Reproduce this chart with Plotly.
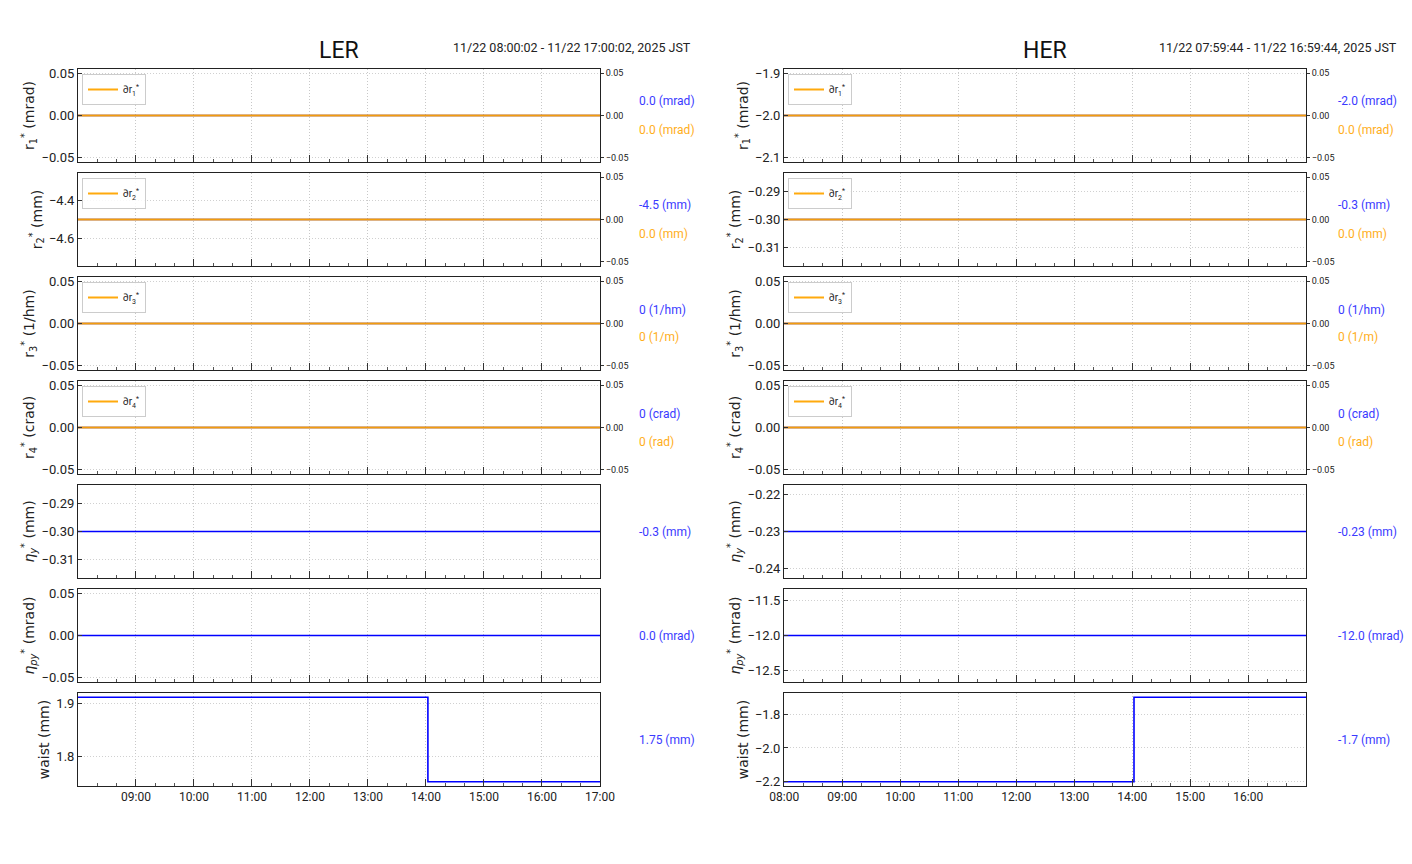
import plotly.graph_objects as go

# ---------------- data ----------------
LER_TIMES = ["2025-11-22 08:00:02", "2025-11-22 14:02:00", "2025-11-22 17:00:02"]
HER_TIMES = ["2025-11-22 07:59:44", "2025-11-22 14:01:48", "2025-11-22 16:59:44"]

LER_XTICK_LABELS = ["09:00", "10:00", "11:00", "12:00", "13:00", "14:00", "15:00", "16:00", "17:00"]
HER_XTICK_LABELS = ["08:00", "09:00", "10:00", "11:00", "12:00", "13:00", "14:00", "15:00", "16:00"]

LER_R1 = [0.0, 0.0, 0.0]
LER_R2 = [-4.5, -4.5, -4.5]
LER_R3 = [0.0, 0.0, 0.0]
LER_R4 = [0.0, 0.0, 0.0]
LER_ETAY = [-0.3, -0.3, -0.3]
LER_ETAPY = [0.0, 0.0, 0.0]
LER_WAIST = [1.911, 1.753, 1.753]
LER_DR = [[0.0, 0.0, 0.0]] * 4

HER_R1 = [-2.0, -2.0, -2.0]
HER_R2 = [-0.3, -0.3, -0.3]
HER_R3 = [0.0, 0.0, 0.0]
HER_R4 = [0.0, 0.0, 0.0]
HER_ETAY = [-0.23, -0.23, -0.23]
HER_ETAPY = [-12.0, -12.0, -12.0]
HER_WAIST = [-2.2, -1.7, -1.7]
HER_DR = [[0.0, 0.0, 0.0]] * 4

Y_LABELS = ["r<sub>1</sub><sup>*</sup> (mrad)", "r<sub>2</sub><sup>*</sup> (mm)",
            "r<sub>3</sub><sup>*</sup> (1/hm)", "r<sub>4</sub><sup>*</sup> (crad)",
            "<i>η</i><sub><i>y</i></sub><sup>*</sup> (mm)", "<i>η</i><sub><i>py</i></sub><sup>*</sup> (mrad)",
            "waist (mm)"]
LEG_NAMES = ["∂r<sub>1</sub><sup>*</sup>", "∂r<sub>2</sub><sup>*</sup>",
             "∂r<sub>3</sub><sup>*</sup>", "∂r<sub>4</sub><sup>*</sup>"]

LER_VAL_TEXT = ["0.0 (mrad)", "-4.5 (mm)", "0 (1/hm)", "0 (crad)", "-0.3 (mm)", "0.0 (mrad)", "1.75 (mm)"]
LER_DR_TEXT = ["0.0 (mrad)", "0.0 (mm)", "0 (1/m)", "0 (rad)"]
HER_VAL_TEXT = ["-2.0 (mrad)", "-0.3 (mm)", "0 (1/hm)", "0 (crad)", "-0.23 (mm)", "-12.0 (mrad)", "-1.7 (mm)"]
HER_DR_TEXT = ["0.0 (mrad)", "0.0 (mm)", "0 (1/m)", "0 (rad)"]

LER_TITLE = "11/22 08:00:02 - 11/22 17:00:02, 2025 JST"
HER_TITLE = "11/22 07:59:44 - 11/22 16:59:44, 2025 JST"

LER_YTICKS = [[-0.05, 0.0, 0.05], [-4.6, -4.4], [-0.05, 0.0, 0.05], [-0.05, 0.0, 0.05],
              [-0.31, -0.30, -0.29], [-0.05, 0.0, 0.05], [1.8, 1.9]]
LER_YTEXT = [["−0.05", "0.00", "0.05"], ["−4.6", "−4.4"], ["−0.05", "0.00", "0.05"],
             ["−0.05", "0.00", "0.05"], ["−0.31", "−0.30", "−0.29"],
             ["−0.05", "0.00", "0.05"], ["1.8", "1.9"]]
HER_YTICKS = [[-2.1, -2.0, -1.9], [-0.31, -0.30, -0.29], [-0.05, 0.0, 0.05], [-0.05, 0.0, 0.05],
              [-0.24, -0.23, -0.22], [-12.5, -12.0, -11.5], [-2.2, -2.0, -1.8]]
HER_YTEXT = [["−2.1", "−2.0", "−1.9"], ["−0.31", "−0.30", "−0.29"], ["−0.05", "0.00", "0.05"],
             ["−0.05", "0.00", "0.05"], ["−0.24", "−0.23", "−0.22"],
             ["−12.5", "−12.0", "−11.5"], ["−2.2", "−2.0", "−1.8"]]
SEC_TICKS = [-0.05, 0.0, 0.05]
SEC_TEXT = ["−0.05", "0.00", "0.05"]

# ---------------- layout geometry ----------------
OFF = 8  # page body margin
W, H = 1412 - 2 * OFF, 864 - 2 * OFF
COL_X = [(78, 600), (784, 1306)]
ROW_Y = [(69, 162), (173, 266), (277, 370), (381, 474), (485, 578), (589, 682), (693, 786)]
ANN_X = [637, 1336]

NARROW = "Roboto, sans-serif"
REG = "DejaVu Sans, sans-serif"
BLUE = "#0000ff"
ORANGE = "#ffa500"


def px(x):
    return (x - OFF) / W


def py(y):
    return 1 - (y - OFF) / H


def yrange(vals):
    lo, hi = min(vals), max(vals)
    if hi == lo:
        d = abs(lo) * 0.05 if lo != 0 else 0.05
        lo, hi = lo - d, hi + d
    m = (hi - lo) * 0.05
    return [lo - m, hi + m]


fig = go.Figure()
layout = {}

columns = [
    dict(times=LER_TIMES, vals=[LER_R1, LER_R2, LER_R3, LER_R4, LER_ETAY, LER_ETAPY, LER_WAIST],
         dr=LER_DR, vtext=LER_VAL_TEXT, drtext=LER_DR_TEXT, yt=LER_YTICKS, ytt=LER_YTEXT,
         xt=LER_XTICK_LABELS, name="LER", sub=LER_TITLE),
    dict(times=HER_TIMES, vals=[HER_R1, HER_R2, HER_R3, HER_R4, HER_ETAY, HER_ETAPY, HER_WAIST],
         dr=HER_DR, vtext=HER_VAL_TEXT, drtext=HER_DR_TEXT, yt=HER_YTICKS, ytt=HER_YTEXT,
         xt=HER_XTICK_LABELS, name="HER", sub=HER_TITLE),
]

annotations = []
legend_n = 0
for c, col in enumerate(columns):
    x0, x1 = COL_X[c]
    xdom = [px(x0), px(x1)]
    xtickvals = ["2025-11-22 " + t + ":00" for t in col["xt"]]
    for r in range(7):
        idx = c * 7 + r + 1
        y0p, y1p = ROW_Y[r]
        ydom = [py(y1p), py(y0p)]
        xa = f"x{idx}"
        ya = f"y{idx}"
        fig.add_trace(go.Scatter(
            x=col["times"], y=col["vals"][r], xaxis=xa, yaxis=ya, mode="lines",
            line=dict(color=BLUE, width=1.6, shape="hv"), showlegend=False, hoverinfo="skip"))
        layout[f"xaxis{idx}"] = dict(
            domain=xdom, anchor=ya, type="date",
            range=[col["times"][0], col["times"][-1]],
            tickmode="array", tickvals=xtickvals, ticktext=col["xt"],
            ticks="inside", ticklen=7, tickcolor="#333", tickwidth=1,
            minor=dict(tickmode="linear", tick0="2025-11-22 00:00:00", dtick=1200000,
                       ticks="inside", ticklen=3, tickcolor="#555", showgrid=False),
            showticklabels=(r == 6),
            tickfont=dict(family=NARROW, size=12, color="#222"),
            showline=True, linecolor="#222", linewidth=1, mirror=True,
            showgrid=True, gridcolor="#c8c8c8", griddash="1px,2px", gridwidth=1,
            zeroline=False, automargin=False, fixedrange=True)
        layout[f"yaxis{idx}"] = dict(
            domain=ydom, anchor=xa, range=yrange(col["vals"][r]),
            tickvals=col["yt"][r], ticktext=col["ytt"][r],
            ticks="inside", ticklen=4, tickcolor="#333",
            tickfont=dict(family=NARROW, size=13, color="#222"),
            showline=True, linecolor="#222", linewidth=1, mirror=True,
            showgrid=True, gridcolor="#d0d0d0", griddash="1px,2px", gridwidth=1,
            zeroline=False, automargin=False, fixedrange=True,
            title=dict(text=Y_LABELS[r],
                       font=dict(family=REG, size=14, color="#222"), standoff=3))
        annotations.append(dict(
            x=px(ANN_X[c]), y=py((y0p + y1p) / 2 - (14 if r < 4 else 0)),
            xref="paper", yref="paper", xanchor="left", yanchor="middle",
            text=col["vtext"][r], showarrow=False,
            font=dict(family=NARROW, size=12, color="#3a3aff")))
        if r < 4:
            sidx = 15 + c * 4 + r
            legend_n += 1
            lg = "legend" if legend_n == 1 else f"legend{legend_n}"
            fig.add_trace(go.Scatter(
                x=col["times"], y=col["dr"][r], xaxis=xa, yaxis=f"y{sidx}", mode="lines",
                line=dict(color=ORANGE, width=2), opacity=0.95, name=LEG_NAMES[r],
                showlegend=True, legend=lg, hoverinfo="skip"))
            layout[f"yaxis{sidx}"] = dict(
                domain=ydom, anchor=xa, overlaying=ya, side="right",
                range=[-0.055, 0.055], tickvals=SEC_TICKS, ticktext=SEC_TEXT,
                ticks="outside", ticklen=3, tickcolor="#333",
                tickfont=dict(family=NARROW, size=9, color="#222"),
                showline=False, showgrid=False, zeroline=False,
                automargin=False, fixedrange=True)
            layout[lg] = dict(
                x=px(x0 + 4), y=py(y0p + 5), xanchor="left", yanchor="top",
                xref="paper", yref="paper",
                bgcolor="rgba(255,255,255,0.85)", bordercolor="#cccccc", borderwidth=1,
                font=dict(family=NARROW, size=10, color="#222"),
                itemwidth=30, tracegroupgap=0)
            annotations.append(dict(
                x=px(ANN_X[c]), y=py((y0p + y1p) / 2 + 14),
                xref="paper", yref="paper", xanchor="left", yanchor="middle",
                text=col["drtext"][r], showarrow=False,
                font=dict(family=NARROW, size=12, color="#ffae1a")))
    annotations.append(dict(
        x=px((x0 + x1) / 2), y=py(51), xref="paper", yref="paper",
        xanchor="center", yanchor="middle", text=col["name"], showarrow=False,
        font=dict(family=NARROW, size=23, color="#111")))
    annotations.append(dict(
        x=px(x1 + 93), y=py(47), xref="paper", yref="paper",
        xanchor="right", yanchor="middle", text=col["sub"], showarrow=False,
        font=dict(family=NARROW, size=12.5, color="#222")))

fig.update_layout(
    width=W, height=H, margin=dict(l=0, r=0, t=0, b=0),
    paper_bgcolor="white", plot_bgcolor="white",
    annotations=annotations, **layout)

fig.write_html("out.html")
